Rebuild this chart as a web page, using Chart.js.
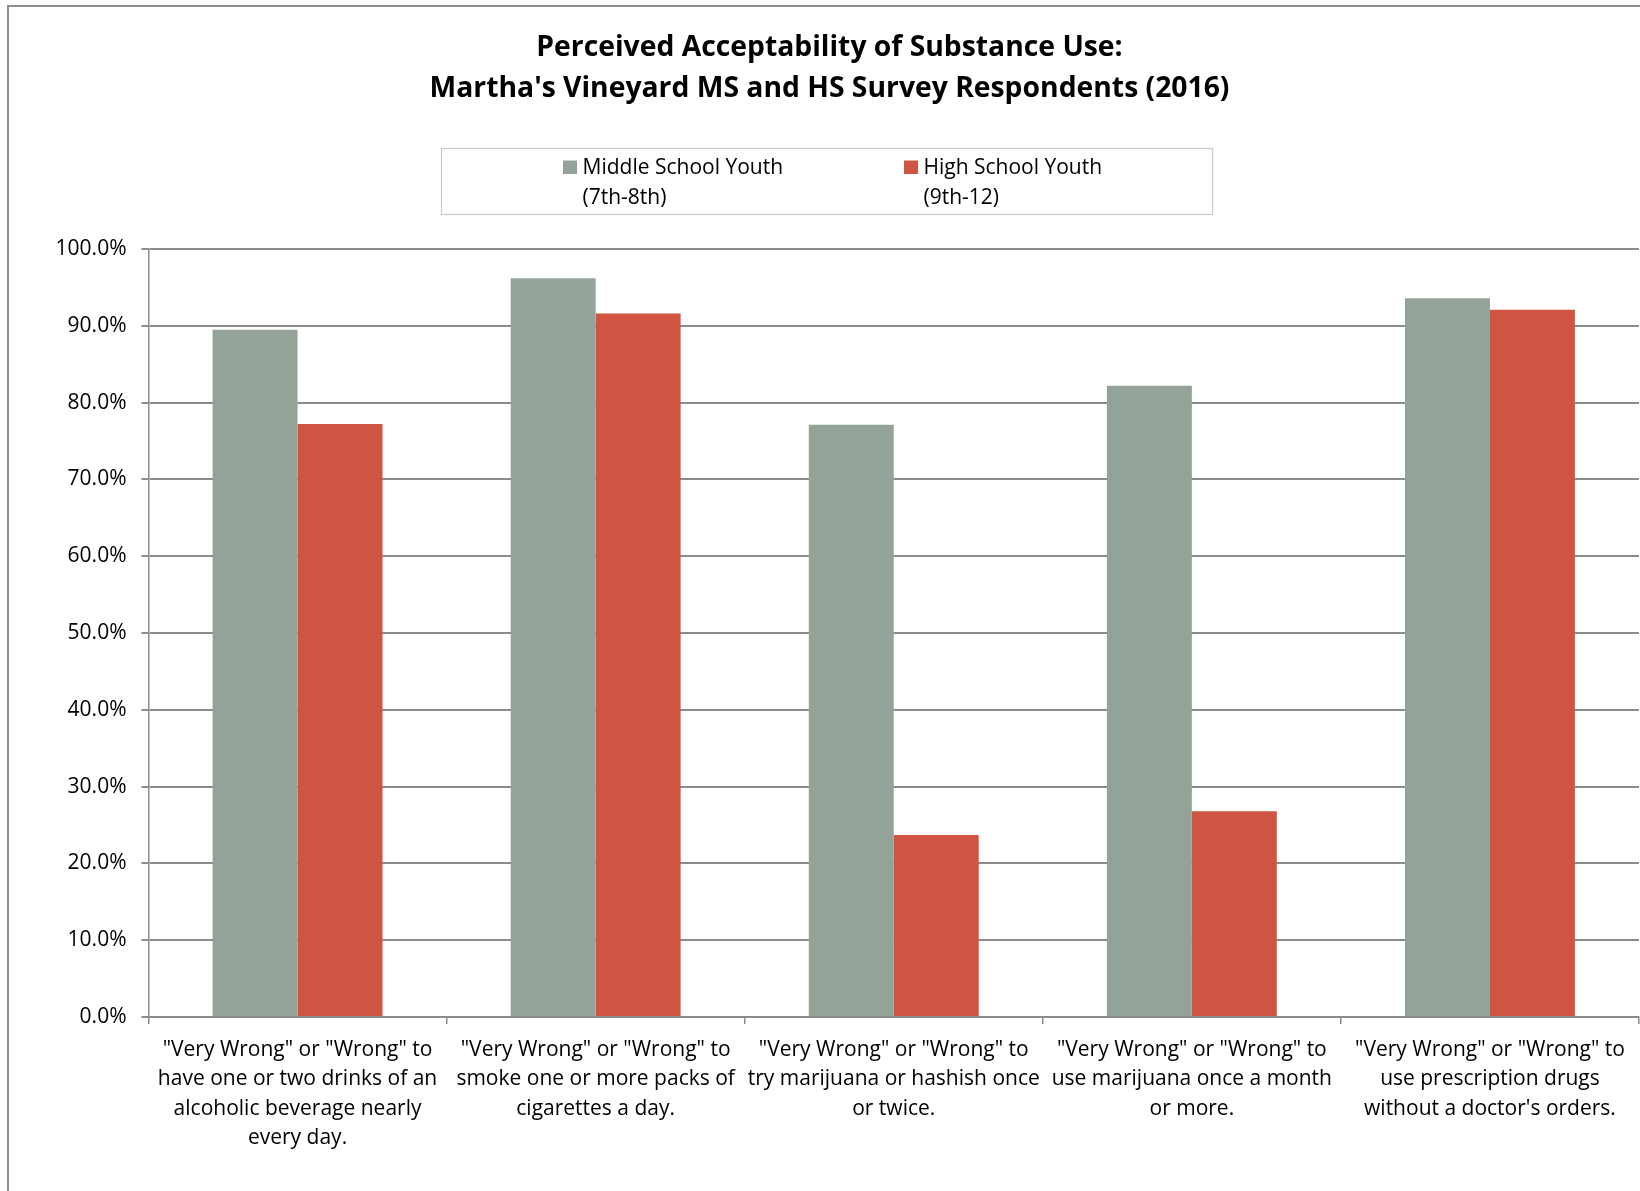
<!DOCTYPE html>
<html>
<head>
<meta charset="utf-8">
<title>Perceived Acceptability of Substance Use</title>
<script src="https://cdn.jsdelivr.net/npm/chart.js@4.4.1/dist/chart.umd.min.js"></script>
<style>
  html, body { margin: 0; padding: 0; background: #fff; overflow: hidden; }
  #wrap { position: relative; width: 1640px; height: 1191px; }
</style>
</head>
<body>
<div id="wrap"><canvas id="myChart" width="1640" height="1191"></canvas></div>
<script>
// chart data
const categories = [
  ['"Very Wrong" or "Wrong" to', 'have one or two drinks of an', 'alcoholic beverage nearly', 'every day.'],
  ['"Very Wrong" or "Wrong" to', 'smoke one or more packs of', 'cigarettes a day.'],
  ['"Very Wrong" or "Wrong" to', 'try marijuana or hashish once', 'or twice.'],
  ['"Very Wrong" or "Wrong" to', 'use marijuana once a month', 'or more.'],
  ['"Very Wrong" or "Wrong" to', 'use prescription drugs', "without a doctor's orders."]
];
const middleSchool = [89.5, 96.2, 77.1, 82.2, 93.6];
const highSchool = [77.2, 91.6, 23.7, 26.8, 92.1];
const seriesNames = [['Middle School Youth', '(7th-8th)'], ['High School Youth', '(9th-12)']];
const seriesColors = ['#93a398', '#cf5441'];
const titleLines = ['Perceived Acceptability of Substance Use:', "Martha's Vineyard MS and HS Survey Respondents (2016)"];
const yMin = 0, yMax = 100, yStep = 10;

const FONT = "'Open Sans', 'Noto Sans', sans-serif";
const GRID = '#8c8c8c';

// white background + outer frame
const framePlugin = {
  id: 'frame',
  beforeDraw(chart) {
    const ctx = chart.ctx;
    ctx.save();
    ctx.fillStyle = '#fff';
    ctx.fillRect(0, 0, chart.width, chart.height);
    ctx.strokeStyle = '#8e8e8e';
    ctx.lineWidth = 2;
    ctx.beginPath();
    ctx.moveTo(8, chart.height);
    ctx.lineTo(8, 6);
    ctx.lineTo(chart.width, 6);
    ctx.stroke();
    ctx.restore();
  }
};

// legend with two-line labels, drawn by hand
const boxLegend = {
  id: 'boxLegend',
  afterDraw(chart) {
    const ctx = chart.ctx;
    ctx.save();
    ctx.strokeStyle = '#c8c8c8';
    ctx.lineWidth = 1.2;
    ctx.strokeRect(441.5, 148.5, 771, 66);
    const xs = [563, 904];
    ctx.font = '21px ' + FONT;
    ctx.textBaseline = 'alphabetic';
    chart.data.datasets.forEach((ds, i) => {
      ctx.fillStyle = ds.backgroundColor;
      ctx.fillRect(xs[i], 160.5, 14, 13.5);
      ctx.fillStyle = '#000';
      seriesNames[i].forEach((line, j) => {
        ctx.fillText(line, xs[i] + 19.5, 174 + j * 30);
      });
    });
    ctx.restore();
  }
};

const ctx = document.getElementById('myChart').getContext('2d');
const myChart = new Chart(ctx, {
  type: 'bar',
  data: {
    labels: categories,
    datasets: [
      { label: seriesNames[0].join(' '), data: middleSchool, backgroundColor: seriesColors[0] },
      { label: seriesNames[1].join(' '), data: highSchool, backgroundColor: seriesColors[1] }
    ]
  },
  options: {
    responsive: false,
    animation: false,
    devicePixelRatio: 1,
    layout: { padding: { left: 20, right: 1, top: 0, bottom: 0 } },
    datasets: { bar: { categoryPercentage: 0.57, barPercentage: 1.0 } },
    plugins: {
      legend: { display: false },
      tooltip: { enabled: false },
      title: {
        display: true,
        text: titleLines,
        color: '#000',
        font: { family: FONT, size: 28.3, weight: 'bold', lineHeight: 1.47 },
        padding: { top: 27, bottom: 138.8 }
      }
    },
    scales: {
      x: {
        grid: { display: true, drawOnChartArea: false, drawTicks: true, tickLength: 7, color: GRID, lineWidth: 1.5, offset: true },
        border: { display: true, color: GRID, width: 2 },
        ticks: {
          color: '#000',
          font: { family: FONT, size: 21, lineHeight: 1.405 },
          padding: 11,
          maxRotation: 0,
          minRotation: 0,
          autoSkip: false
        },
        afterFit(scale) { scale.height = 174; }
      },
      y: {
        min: yMin,
        max: yMax,
        grid: { color: GRID, lineWidth: 2, drawTicks: true, tickLength: 7 },
        border: { display: true, color: GRID, width: 1.5 },
        ticks: {
          stepSize: yStep,
          color: '#000',
          font: { family: FONT, size: 21 },
          padding: 15,
          callback: (v) => v.toFixed(1) + '%'
        },
        afterFit(scale) { scale.width = 128.5; }
      }
    }
  },
  plugins: [framePlugin, boxLegend]
});
</script>
</body>
</html>
